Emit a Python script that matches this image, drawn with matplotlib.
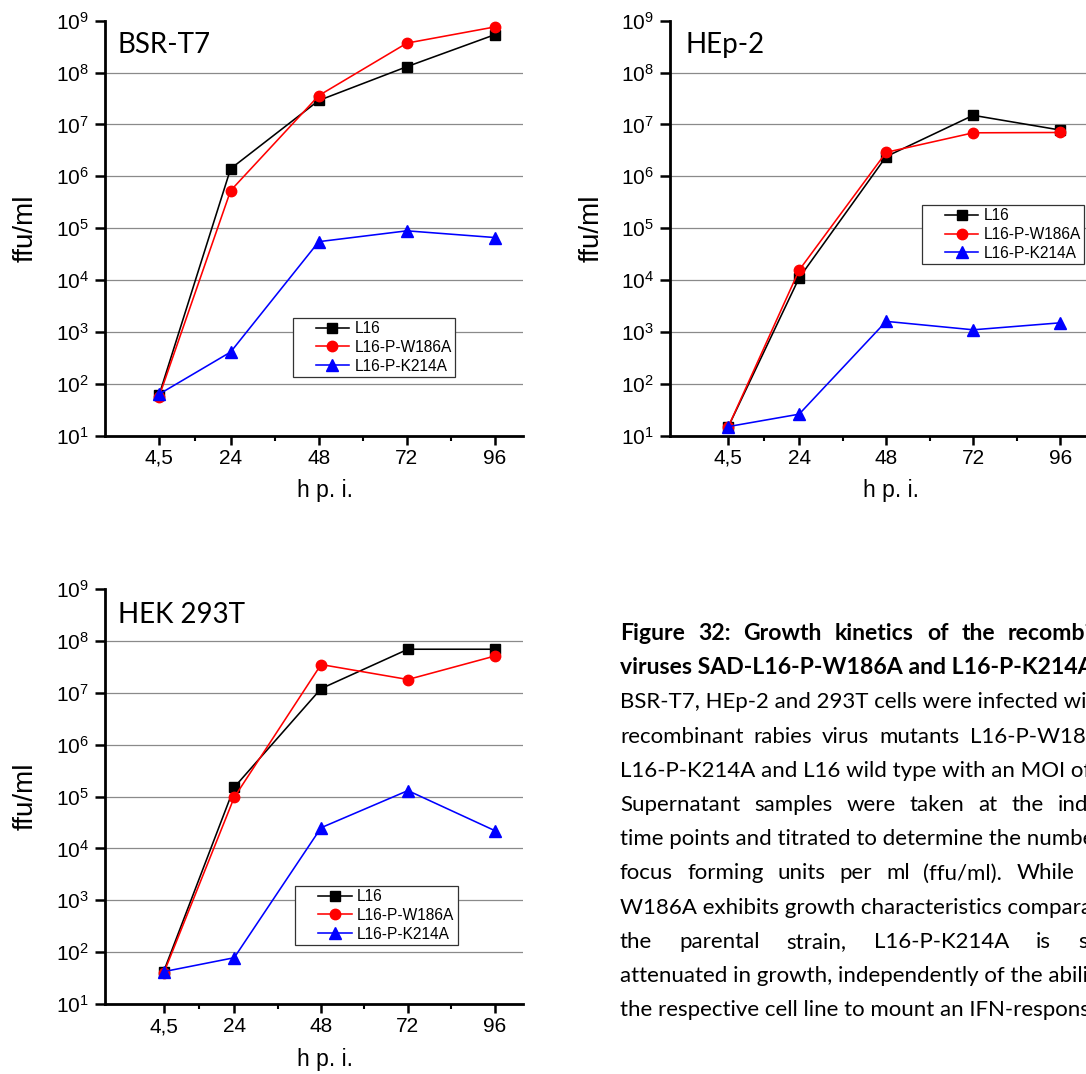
import matplotlib
matplotlib.use('Agg')
import matplotlib.pyplot as plt
from matplotlib.ticker import FixedLocator, NullLocator, LogLocator
from matplotlib.lines import Line2D
from matplotlib.legend_handler import HandlerLine2D

plt.rcParams['font.family'] = ['Liberation Sans', 'DejaVu Sans']
plt.rcParams['mathtext.fontset'] = 'custom'
plt.rcParams['mathtext.rm'] = 'Liberation Sans'
plt.rcParams['mathtext.it'] = 'Liberation Sans:italic'
plt.rcParams['mathtext.bf'] = 'Liberation Sans:bold'

# ---------------- data ----------------
hours = [4.5, 24, 48, 72, 96]
hour_labels = ['4,5', '24', '48', '72', '96']
series_names = ['L16', 'L16-P-W186A', 'L16-P-K214A']

bsr_L16 = [60, 1.4e6, 2.9e7, 1.3e8, 5.4e8]
bsr_W186A = [56, 5.3e5, 3.6e7, 3.7e8, 7.6e8]
bsr_K214A = [63, 410, 5.5e4, 8.9e4, 6.6e4]

hep_L16 = [15, 1.1e4, 2.4e6, 1.5e7, 7.8e6]
hep_W186A = [15, 1.55e4, 2.9e6, 6.9e6, 7.0e6]
hep_K214A = [15, 26, 1.6e3, 1.1e3, 1.5e3]

hek_L16 = [42, 1.5e5, 1.2e7, 6.9e7, 6.9e7]
hek_W186A = [39, 9.6e4, 3.5e7, 1.8e7, 5.1e7]
hek_K214A = [42, 78, 2.5e4, 1.3e5, 2.2e4]

panel_titles = ['BSR-T7', 'HEp-2', 'HEK 293T']
decades = [1, 2, 3, 4, 5, 6, 7, 8, 9]

caption_bold = ["Figure 32: Growth kinetics of the recombinant",
                "viruses SAD-L16-P-W186A and L16-P-K214A."]
caption_body = ["BSR-T7, HEp-2 and 293T cells were infected with",
                "recombinant rabies virus mutants L16-P-W186A and",
                "L16-P-K214A and L16 wild type with an MOI of 0.01.",
                "Supernatant samples were taken at the indicated",
                "time points and titrated to determine the number of",
                "focus forming units per ml (ffu/ml). While L16-P-",
                "W186A exhibits growth characteristics comparable to",
                "the parental strain, L16-P-K214A is severely",
                "attenuated in growth, independently of the ability of",
                "the respective cell line to mount an IFN-response."]

# ---------------- figure ----------------
W, H = 1086, 1074
fig = plt.figure(figsize=(W / 100, H / 100), dpi=100)


def px_axes(left, top, right, bottom):
    return fig.add_axes([left / W, 1 - bottom / H, (right - left) / W, (bottom - top) / H])


styles = [dict(color='black', marker='s', ms=7),
          dict(color='red', marker='o', ms=7.5),
          dict(color='blue', marker='^', ms=8.5)]

panels = [
    dict(box=(105, 20.7, 523, 435.7), xlim=(-10.2, 103.6),
         data=[bsr_L16, bsr_W186A, bsr_K214A], title=panel_titles[0],
         title_xy=(0.031, 0.922), leg=(0.449, 0.1414), xlab=0.526),
    dict(box=(670, 20.7, 1086, 435.7), xlim=(-11.6, 103.1),
         data=[hep_L16, hep_W186A, hep_K214A], title=panel_titles[1],
         title_xy=(0.038, 0.922), leg=(0.606, 0.413), xlab=0.531),
    dict(box=(105, 589, 523, 1004), xlim=(-11.7, 103.8),
         data=[hek_L16, hek_W186A, hek_K214A], title=panel_titles[2],
         title_xy=(0.031, 0.919), leg=(0.455, 0.142), xlab=0.526),
]

minor_x = [(hours[i] + hours[i + 1]) / 2 for i in range(len(hours) - 1)]

for p in panels:
    ax = px_axes(*p['box'])
    for vals, name, st in zip(p['data'], series_names, styles):
        ax.plot(hours, vals, lw=1.15, label=name, clip_on=False, zorder=3, **st)
    ax.set_yscale('log')
    ax.set_ylim(10 ** decades[0], 10 ** decades[-1])
    ax.set_xlim(*p['xlim'])
    for e in decades[1:-1]:
        ax.axhline(10 ** e, color='#8a8a8a', lw=0.9, zorder=0)
    ax.yaxis.set_major_locator(LogLocator(base=10, numticks=20))
    ax.yaxis.set_minor_locator(NullLocator())
    ax.set_xticks(hours)
    ax.set_xticklabels(hour_labels)
    ax.xaxis.set_minor_locator(FixedLocator(minor_x))
    for s in ['top', 'right']:
        ax.spines[s].set_visible(False)
    for s in ['left', 'bottom']:
        ax.spines[s].set_linewidth(2.0)
    ax.tick_params(axis='y', which='major', direction='out', length=7.5, width=1.8,
                   labelsize=15, pad=4)
    ax.tick_params(axis='x', which='major', direction='out', length=6.5, width=1.8,
                   labelsize=15, pad=3)
    ax.tick_params(axis='x', which='minor', direction='out', length=3.5, width=1.5)
    ax.set_ylabel('ffu/ml', fontsize=20)
    ax.yaxis.set_label_coords(-0.158, 0.5)
    ax.set_xlabel('h p. i.', fontsize=16.5)
    ax.xaxis.set_label_coords(p['xlab'], -0.105)
    ax.text(p['title_xy'][0], p['title_xy'][1], p['title'], transform=ax.transAxes,
            fontsize=20, family=['Lato', 'DejaVu Sans'], va='baseline', ha='left')
    leg = ax.legend(loc='lower left', bbox_to_anchor=p['leg'], borderaxespad=0,
                    fontsize=11.2, frameon=True, fancybox=False, framealpha=1,
                    edgecolor='#333333', handlelength=3.4, handletextpad=0.34,
                    labelspacing=0.24, borderpad=0.22,
                    handler_map={Line2D: HandlerLine2D(xpad=1.25)})
    leg.get_frame().set_linewidth(0.9)

# ---------------- caption ----------------
renderer = fig.canvas.get_renderer()
x0 = 620
base0 = 640
step = 34.2
cap_font = ['Lato', 'DejaVu Sans']


def draw_line(text, ybase, gap=None, weight='normal', size=16):
    if gap is None:
        fig.text(x0 / W, 1 - ybase / H, text, va='baseline', ha='left',
                 fontsize=size, family=cap_font, weight=weight)
        return
    x = x0
    for w in text.split(' '):
        t = fig.text(x / W, 1 - ybase / H, w, va='baseline', ha='left',
                     fontsize=size, family=cap_font, weight=weight)
        bb = t.get_window_extent(renderer)
        x += bb.width + gap


bold_gaps = [13, None]
body_gaps = [None, 10, None, 14, None, 14, None, 27, None, None]

i = 0
for line, g in zip(caption_bold, bold_gaps):
    draw_line(line, base0 + step * i, g, weight='bold', size=16.6)
    i += 1
for line, g in zip(caption_body, body_gaps):
    draw_line(line, base0 + step * i, g)
    i += 1

fig.savefig('out.png', dpi=100)
